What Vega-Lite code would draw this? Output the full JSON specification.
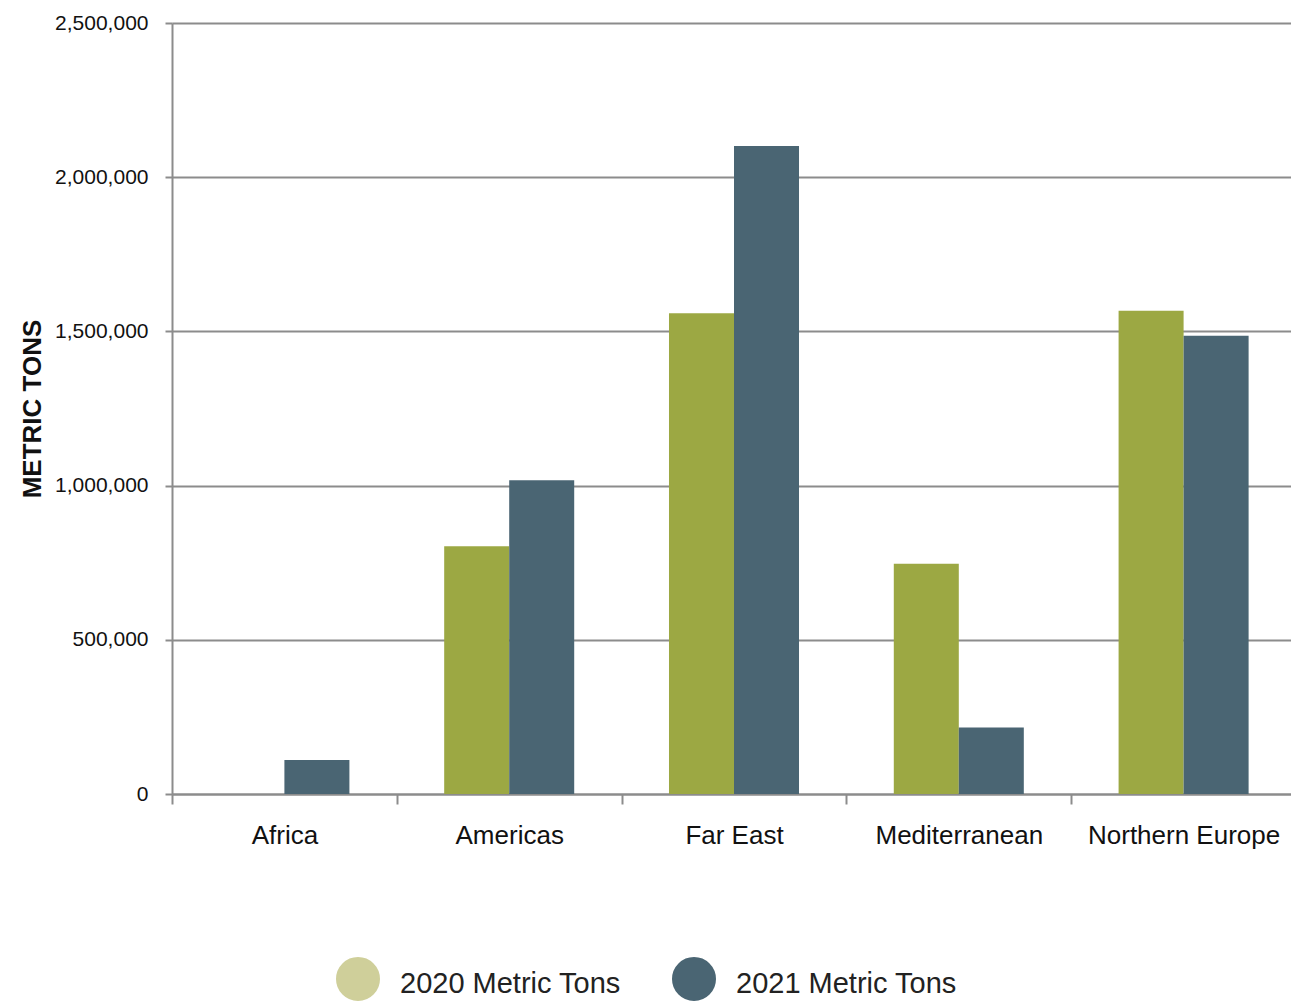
{
  "$schema": "https://vega.github.io/schema/vega-lite/v6.json",
  "autosize": {"type": "none"},
  "padding": {"left": 172, "top": 23, "right": 0, "bottom": 210},
  "width": 1119,
  "height": 771,
  "background": "white",
  "config": {"view": {"stroke": null}},
  "data": {
    "values": [
      {"region": "Africa", "series": "2020 Metric Tons", "tons": 0},
      {"region": "Africa", "series": "2021 Metric Tons", "tons": 110000},
      {"region": "Americas", "series": "2020 Metric Tons", "tons": 803000},
      {"region": "Americas", "series": "2021 Metric Tons", "tons": 1017000},
      {"region": "Far East", "series": "2020 Metric Tons", "tons": 1559000},
      {"region": "Far East", "series": "2021 Metric Tons", "tons": 2101000},
      {"region": "Mediterranean", "series": "2020 Metric Tons", "tons": 747000},
      {"region": "Mediterranean", "series": "2021 Metric Tons", "tons": 216000},
      {"region": "Northern Europe", "series": "2020 Metric Tons", "tons": 1567000},
      {"region": "Northern Europe", "series": "2021 Metric Tons", "tons": 1486000}
    ]
  },
  "mark": {"type": "bar"},
  "encoding": {
    "x": {
      "field": "region",
      "type": "nominal",
      "sort": null,
      "scale": {"range": [0, 1124], "paddingInner": 0, "paddingOuter": 0},
      "axis": {
        "title": null,
        "labelAngle": 0,
        "labelFont": "Liberation Sans, Arial, sans-serif",
        "labelFontSize": 26,
        "labelColor": "#111111",
        "labelPadding": 18,
        "labelLimit": 400,
        "tickBand": "extent",
        "tickSize": 10,
        "tickWidth": 2,
        "tickColor": "#8c8c8c",
        "domainColor": "#8c8c8c",
        "domainWidth": 2,
        "grid": false
      }
    },
    "xOffset": {"field": "series", "type": "nominal", "scale": {"paddingInner": 0, "paddingOuter": 0.729}},
    "y": {
      "field": "tons",
      "type": "quantitative",
      "scale": {"domain": [0, 2500000], "nice": false},
      "axis": {
        "title": "METRIC TONS",
        "titleFont": "Liberation Sans, Arial, sans-serif",
        "titleFontSize": 26,
        "titleFontWeight": "bold",
        "titleColor": "#111111",
        "titlePadding": 9,
        "values": [0, 500000, 1000000, 1500000, 2000000, 2500000],
        "format": ",d",
        "labelFont": "Liberation Sans, Arial, sans-serif",
        "labelFontSize": 21,
        "labelColor": "#111111",
        "labelPadding": 17,
        "tickSize": 7,
        "tickWidth": 2,
        "tickColor": "#8c8c8c",
        "domainColor": "#8c8c8c",
        "domainWidth": 2,
        "grid": true,
        "gridColor": "#8c8c8c",
        "gridWidth": 2
      }
    },
    "color": {
      "field": "series",
      "type": "nominal",
      "scale": {"domain": ["2020 Metric Tons", "2021 Metric Tons"], "range": ["#9ca843", "#4a6573"]},
      "legend": {
        "title": null,
        "orient": "none",
        "direction": "horizontal",
        "legendX": 164,
        "legendY": 934,
        "symbolType": "circle",
        "symbolSize": 484,
        "symbolOpacity": 1,
        "symbolStrokeWidth": 22,
        "labelFont": "Liberation Sans, Arial, sans-serif",
        "labelFontSize": 29,
        "labelColor": "#222222",
        "labelOffset": 20,
        "columnPadding": 18,
        "labelLimit": 400,
        "encode": {
          "symbols": {
            "update": {
              "stroke": {"signal": "datum.index === 0 ? '#cfcf9a' : '#4a6573'"},
              "strokeWidth": {"value": 22},
              "size": {"value": 484},
              "opacity": {"value": 1}
            }
          },
          "labels": {
            "update": {"dy": {"value": 5}}
          }
        }
      }
    }
  }
}
